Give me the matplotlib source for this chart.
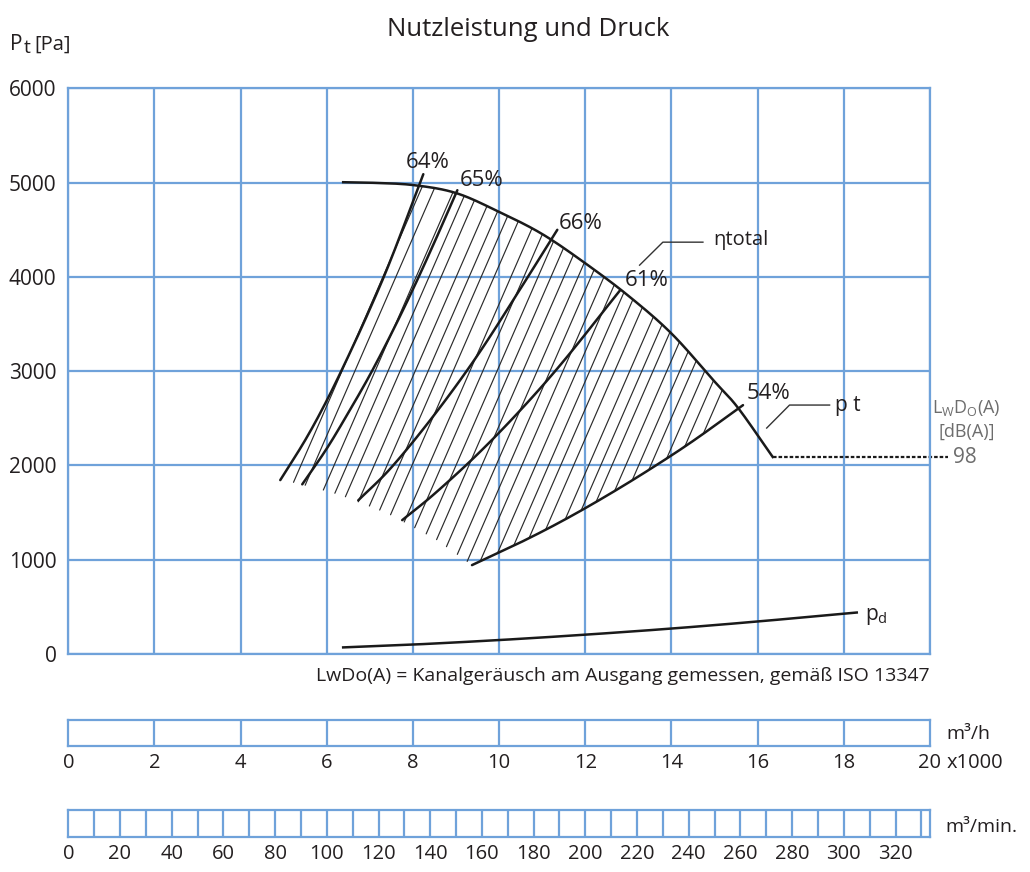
import numpy as np
import matplotlib
matplotlib.use("Agg")
import matplotlib.pyplot as plt

plt.rcParams['font.family'] = ['Open Sans', 'DejaVu Sans']
plt.rcParams['mathtext.fontset'] = 'custom'
plt.rcParams['mathtext.rm'] = 'Open Sans'
plt.rcParams['mathtext.it'] = 'Open Sans:italic'
plt.rcParams['mathtext.bf'] = 'Open Sans:bold'

# ---------------- data ----------------
flow_ticks = [0, 2, 4, 6, 8, 10, 12, 14, 16, 18, 20]          # x1000 m3/h
pressure_ticks = [0, 1000, 2000, 3000, 4000, 5000, 6000]       # Pa
min_ticks = list(range(0, 321, 20))                             # m3/min labels
min_cells = list(range(10, 331, 10))                            # m3/min dividers

# total pressure envelope (x1000 m3/h, Pa)
pt_q = [6.38, 7.0, 8.0, 9.0, 10.0, 11.0, 12.0, 13.0, 14.0, 15.0, 15.55, 16.35]
pt_p = [5005, 5000, 4975, 4890, 4690, 4455, 4145, 3800, 3400, 2890, 2608, 2090]

# sound level line
lw_q = [16.35, 20.41]
lw_p = [2086, 2086]
lw_value = "98"

# efficiency curves
eff_labels = ["64%", "65%", "66%", "61%", "54%"]
eff_q = [
    [4.92, 5.5, 6.0, 6.5, 7.0, 7.5, 8.24],
    [5.43, 6.0, 6.5, 7.0, 7.5, 8.0, 8.5, 9.03],
    [6.73, 7.5, 8.5, 9.5, 10.5, 11.35],
    [7.75, 8.5, 9.5, 10.5, 11.5, 12.81],
    [9.37, 10.5, 11.5, 12.5, 13.5, 14.5, 15.66],
]
eff_p = [
    [1845, 2270, 2690, 3160, 3660, 4200, 5090],
    [1800, 2180, 2560, 2960, 3400, 3870, 4370, 4920],
    [1630, 1980, 2540, 3170, 3880, 4500],
    [1420, 1700, 2120, 2590, 3110, 3860],
    [943, 1185, 1420, 1680, 1960, 2260, 2640],
]

# dynamic pressure
pd_q = [6.38, 8.0, 10.0, 12.0, 14.0, 16.0, 18.3]
pd_p = [70, 100, 148, 205, 270, 345, 440]

# hatch lines: flow at which each line passes 3000 Pa, and common slope
hatch_q_at_3000 = [6.35, 6.65, 7.12, 7.42, 7.70, 8.05, 8.35, 8.63, 8.93, 9.32, 9.62,
                   9.95, 10.25, 10.55, 10.88, 11.18, 11.48, 11.80, 12.10, 12.38,
                   12.68, 13.03, 13.31, 13.57, 13.89, 14.19, 14.47, 14.77, 15.07,
                   15.37]
hatch_slope = 1050  # Pa per 1000 m3/h
# lower-left edge of the hatched field
floor_q = [4.9, 6.26, 7.40, 8.52, 9.37]
floor_p = [1860, 1696, 1495, 1219, 943]

# ---------------- style ----------------
BLUE = "#6fa2da"
INK = "#231f20"
GREY = "#6d6d6d"
GLW = 1.6


def smooth(xs, ys, n=24):
    """Catmull-Rom curve passing through the given points (for drawing)."""
    P = np.column_stack([xs, ys]).astype(float)
    P = np.vstack([2 * P[0] - P[1], P, 2 * P[-1] - P[-2]])
    out = []
    t = np.linspace(0, 1, n, endpoint=False)[:, None]
    for i in range(1, len(P) - 2):
        p0, p1, p2, p3 = P[i - 1], P[i], P[i + 1], P[i + 2]
        seg = 0.5 * ((2 * p1) + (-p0 + p2) * t + (2 * p0 - 5 * p1 + 4 * p2 - p3) * t ** 2
                     + (-p0 + 3 * p1 - 3 * p2 + p3) * t ** 3)
        out.append(seg)
    out.append(P[-2][None, :])
    out = np.vstack(out)
    return out[:, 0], out[:, 1]


fig = plt.figure(figsize=(10.30, 8.72), dpi=100)

ax = fig.add_axes([0.0663, 0.25, 0.8366, 0.6486])
ax.set_xlim(0, 20)
ax.set_ylim(0, 6000)
ax.set_xticks(flow_ticks)
ax.set_yticks(pressure_ticks)
ax.set_xticklabels([])
ax.set_yticklabels([str(v) for v in pressure_ticks], fontsize=15, color=INK)
ax.tick_params(length=0, pad=8.5)
ax.grid(True, color=BLUE, lw=GLW)
ax.set_axisbelow(True)
for s in ax.spines.values():
    s.set_color(BLUE)
    s.set_linewidth(GLW)

env_q, env_p = smooth(pt_q, pt_p)
eff_s = [smooth(q, p) for q, p in zip(eff_q, eff_p)]

# hatch lines
qq = np.linspace(4.0, 17.0, 5000)
env = np.interp(qq, env_q, env_p, left=1e9, right=-1e9)
low = np.where(qq <= floor_q[-1],
               np.interp(qq, floor_q, floor_p, left=1e9),
               np.interp(qq, eff_s[4][0], eff_s[4][1], right=1e9))
left_clip = np.interp(qq, eff_s[0][0], eff_s[0][1], left=-1e9, right=1e9)
for q0 in hatch_q_at_3000:
    pl = 3000 + hatch_slope * (qq - q0)
    m = (pl <= env) & (pl >= low) & (pl <= left_clip)
    if m.sum() < 2:
        continue
    idx = np.where(m)[0]
    ax.plot(qq[idx[[0, -1]]], pl[idx[[0, -1]]], color="#2b2b2b", lw=0.85,
            solid_capstyle='round')

# efficiency curves
for q, p in eff_s:
    ax.plot(q, p, color="#1a1a1a", lw=1.8, solid_capstyle='round')

# total pressure envelope
ax.plot(env_q, env_p, color="#1a1a1a", lw=1.8)
ax.plot(lw_q, lw_p, color="#1a1a1a", lw=1.6, ls=(0, (1.6, 0.9)), clip_on=False)

# dynamic pressure
pdq, pdp = smooth(pd_q, pd_p)
ax.plot(pdq, pdp, color="#1a1a1a", lw=1.8)

# labels for efficiencies
label_pos = [(8.35, 5217), (9.60, 5027), (11.9, 4571), (13.43, 3966), (16.26, 2768)]
for lab, (x, y) in zip(eff_labels, label_pos):
    ax.text(x, y, lab, fontsize=16, ha='center', va='center', color=INK)

# eta total leader
ax.plot([13.26, 13.8, 14.73], [4125, 4369, 4369], color="#333333", lw=1.0)
ax.text(14.96, 4390, "ηtotal", fontsize=14.5, ha='left', va='center', color=INK)
# pt leader
ax.plot([16.21, 16.74, 17.67], [2397, 2641, 2641], color="#333333", lw=1.0)
ax.text(17.8, 2641, "p t", fontsize=15, ha='left', va='center', color=INK)
# pd label
ax.text(18.5, 403, "p$_\\mathrm{d}$", fontsize=15, ha='left', va='center', color=INK)

# sound labels
ax.text(20.85, 2609, "L$_\\mathrm{W}$D$_\\mathrm{O}$(A)", fontsize=13, ha='center',
        va='center', color=GREY, clip_on=False)
ax.text(20.85, 2354, "[dB(A)]", fontsize=13, ha='center', va='center',
        color=GREY, clip_on=False)
ax.text(20.53, 2086, lw_value, fontsize=15, ha='left', va='center', color=GREY,
        clip_on=False)

# texts
fig.text(0.513, 0.966, "Nutzleistung und Druck", fontsize=18.5, ha='center',
         va='center', color=INK)
fig.text(0.0097, 0.949, "P", fontsize=15, ha='left', va='center', color=INK)
fig.text(0.0235, 0.945, "t", fontsize=14, ha='left', va='center', color=INK)
fig.text(0.0335, 0.949, "[Pa]", fontsize=14.5, ha='left', va='center', color=INK)
fig.text(0.903, 0.2248, "LwDo(A) = Kanalgeräusch am Ausgang gemessen, gemäß ISO 13347",
         fontsize=14, ha='right', va='center', color=INK)

# m3/h bar
ax1 = fig.add_axes([0.0663, 0.1448, 0.8366, 0.0295])
ax1.set_xlim(0, 20)
ax1.set_ylim(0, 1)
for v in flow_ticks[1:-1]:
    ax1.axvline(v, color=BLUE, lw=GLW)
ax1.set_xticks(flow_ticks)
ax1.set_xticklabels([str(v) for v in flow_ticks], fontsize=14.5, color=INK)
ax1.set_yticks([])
ax1.tick_params(length=0, pad=5)
for s in ax1.spines.values():
    s.set_color(BLUE)
    s.set_linewidth(GLW)
fig.text(0.9195, 0.1245, "x1000", fontsize=14.5, ha='left', va='center', color=INK)
fig.text(0.919, 0.158, "m³/h", fontsize=14, ha='left', va='center', color=INK)

# m3/min bar
ax2 = fig.add_axes([0.0663, 0.0405, 0.8366, 0.0306])
ax2.set_xlim(0, 20000 / 60)
ax2.set_ylim(0, 1)
for v in min_cells:
    ax2.axvline(v, color=BLUE, lw=GLW)
ax2.set_xticks(min_ticks)
ax2.set_xticklabels([str(v) for v in min_ticks], fontsize=14.5, color=INK)
ax2.set_yticks([])
ax2.tick_params(length=0, pad=5)
for s in ax2.spines.values():
    s.set_color(BLUE)
    s.set_linewidth(GLW)
fig.text(0.9175, 0.0516, "m³/min.", fontsize=14, ha='left', va='center', color=INK)

fig.savefig("out.png", dpi=100)
